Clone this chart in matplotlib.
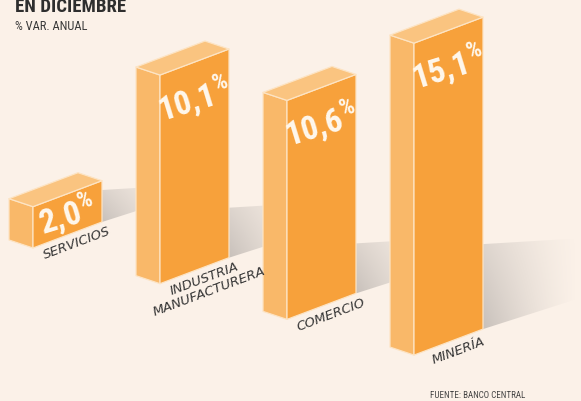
import matplotlib
matplotlib.use('Agg')
import matplotlib.pyplot as plt
import numpy as np
from matplotlib.patches import Polygon
from matplotlib import font_manager as fm

# ---------------- data ----------------
categories = ['SERVICIOS', 'INDUSTRIA\nMANUFACTURERA', 'COMERCIO', 'MINERÍA']
values = [2.0, 10.1, 10.6, 15.1]
value_labels = ['2,0', '10,1', '10,6', '15,1']
title = 'EN DICIEMBRE'
subtitle = '% VAR. ANUAL'
source = 'FUENTE: BANCO CENTRAL'

# ---------------- fonts ----------------
available = {f.name for f in fm.fontManager.ttflist}
def pick(*names):
    for n in names:
        if n in available:
            return n
    return 'DejaVu Sans'
narrow = pick('Roboto Condensed', 'Liberation Sans Narrow', 'DejaVu Sans')
is_narrow = narrow != 'DejaVu Sans'
plt.rcParams['mathtext.fontset'] = 'custom'
plt.rcParams['mathtext.rm'] = narrow
plt.rcParams['mathtext.bf'] = narrow + ':bold'

# ---------------- style ----------------
BG = '#FBF1E8'
FRONT = '#F7A13B'
SIDE = '#F9B869'
TOP = '#FAC480'
EDGE = '#FDE4C4'
TEXT = '#363636'
SCALE = 20.66                      # px per percentage point
W = np.array([69.0, -26.0])        # front face width vector
D = np.array([24.0, 8.0])          # depth vector (back -> front)
ORIGIN = np.array([33.0, 248.0])   # front-bottom-left corner of first bar
STEP = np.array([127.0, 35.7])     # step between bars
SHADOW_H = [32, 50, 50, 85]
SHADOW_L = 95

fig = plt.figure(figsize=(5.81, 4.01), dpi=100, facecolor=BG)
ax = fig.add_axes([0, 0, 1, 1])
ax.set_facecolor(BG)
ax.axis('off')

u = W / np.linalg.norm(W)
n = np.array([abs(u[1]), abs(u[0])])   # downward normal (screen y grows down)
edge_angle = np.degrees(np.arctan2(-W[1], W[0]))

# shadows first
for i, v in enumerate(values):
    P0 = ORIGIN + STEP * i
    R = P0 + W
    hs = SHADOW_H[i]
    pts = np.array([
        [R[0], R[1]],
        [R[0], R[1] - hs],
        [R[0] + SHADOW_L, R[1] - hs - SHADOW_L * 0.06],
        [R[0] + SHADOW_L, R[1] - SHADOW_L * 0.32],
    ])
    poly = Polygon(pts, closed=True, facecolor='none', edgecolor='none')
    ax.add_patch(poly)
    nx, ny = 200, 40
    gx = np.linspace(0, 1, nx)
    gy = np.linspace(0, 1, ny)
    a = (1 - gx) ** 1.3
    b = 0.55 + 0.45 * gy
    img = np.zeros((ny, nx, 4))
    img[..., 0] = 0.62
    img[..., 1] = 0.60
    img[..., 2] = 0.59
    img[..., 3] = 0.55 * np.outer(b, a)
    im = ax.imshow(img, extent=(pts[:, 0].min(), pts[:, 0].max(), pts[:, 1].max(), pts[:, 1].min()),
                   aspect='auto', interpolation='bilinear', zorder=1)
    im.set_clip_path(poly)

# bars
for i, v in enumerate(values):
    P0 = ORIGIN + STEP * i
    H = np.array([0.0, v * SCALE])
    F = P0 - H
    side = [P0, P0 - D, P0 - D - H, F]
    front = [P0, P0 + W, P0 + W - H, F]
    top = [F, F - D, F - D + W, F + W]
    for pts, col in [(side, SIDE), (front, FRONT), (top, TOP)]:
        ax.add_patch(Polygon(np.array(pts), closed=True, facecolor=col, edgecolor=EDGE,
                             linewidth=0.9, joinstyle='round', zorder=3))

    # value label, centered on the front face
    c_top = F + W / 2
    off = min(37.0, v * SCALE / 2)
    c = c_top + np.array([0, off])
    fs = 24 if is_narrow else 16
    ax.text(c[0], c[1], value_labels[i] + r'$^{\mathbf{\%}}$', fontsize=fs, fontweight='bold',
            family=narrow, color='#FFF8EE', ha='center', va='center', rotation=17,
            rotation_mode='anchor', zorder=5)

    # category label under the front bottom edge
    bc = P0 + W / 2
    a_pt = bc + u * 6 + n * 5
    ax.text(a_pt[0], a_pt[1], categories[i], fontsize=9.5, style='italic', color=TEXT,
            ha='center', va='top', rotation=edge_angle, rotation_mode='anchor',
            multialignment='center', linespacing=1.0, zorder=5)

# titles
ax.text(15, 12, title, fontsize=13.5 if is_narrow else 11, fontweight='bold', family=narrow,
        color='#2E2E2E', ha='left', va='baseline', zorder=6)
ax.text(15, 27, subtitle, fontsize=9, family=narrow, color='#3A3A3A',
        ha='left', va='center', zorder=6)
ax.text(478, 396, source, fontsize=6.5, family=narrow, color='#444444',
        ha='center', va='center', zorder=6)

ax.set_xlim(0, 581)
ax.set_ylim(401, 0)
fig.savefig('out.png', dpi=100, facecolor=BG)
